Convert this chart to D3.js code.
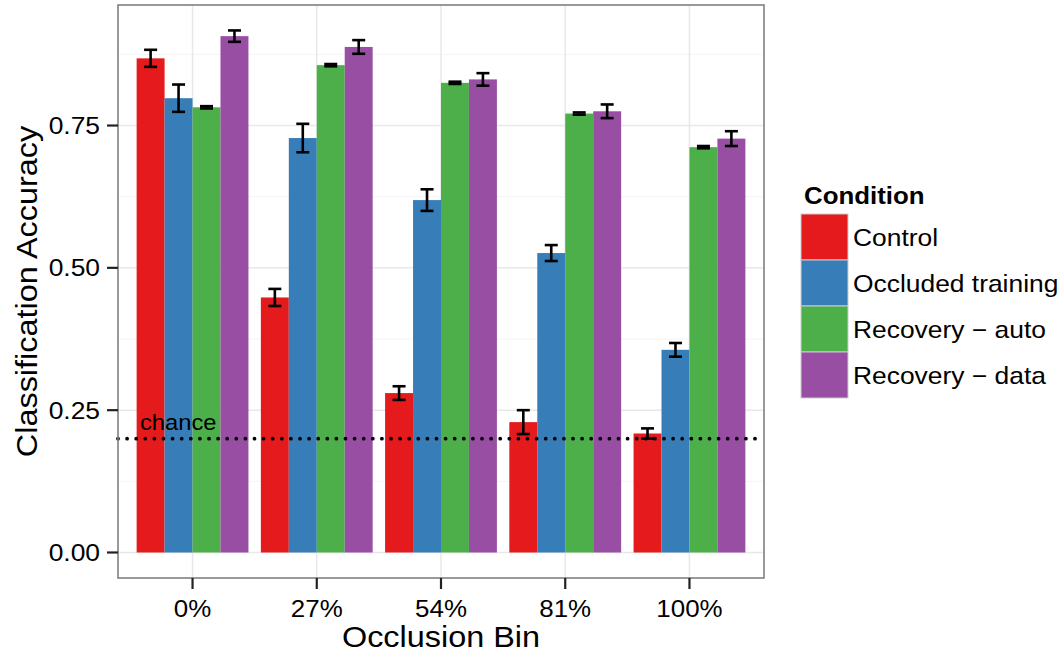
<!DOCTYPE html>
<html>
<head>
<meta charset="utf-8">
<script src="https://cdn.jsdelivr.net/npm/d3@7"></script>
<style>
  html, body { margin: 0; padding: 0; background: #ffffff; }
  svg { display: block; }
  text { font-family: "Liberation Sans", Arial, Helvetica, sans-serif; }
</style>
</head>
<body>
<svg id="chart" width="1064" height="655"></svg>
<script>
// ---- data ----
const categories = ["0%", "27%", "54%", "81%", "100%"];
const conditions = ["Control", "Occluded training", "Recovery \u2212 auto", "Recovery \u2212 data"];
const colors = ["#E41A1C", "#377EB8", "#4DAF4A", "#984EA3"];
const controlVals   = [0.868, 0.448, 0.280, 0.229, 0.209];
const controlErr    = [0.015, 0.015, 0.012, 0.021, 0.009];
const occludedVals  = [0.798, 0.728, 0.619, 0.526, 0.356];
const occludedErr   = [0.024, 0.025, 0.019, 0.014, 0.012];
const autoVals      = [0.782, 0.856, 0.825, 0.771, 0.712];
const autoErr       = [0.002, 0.002, 0.002, 0.002, 0.002];
const dataVals      = [0.907, 0.888, 0.831, 0.775, 0.727];
const dataErr       = [0.010, 0.012, 0.011, 0.012, 0.013];
const yTicks = [0, 0.25, 0.5, 0.75];
const yTickLabels = ["0.00", "0.25", "0.50", "0.75"];
const chanceLevel = 0.2;

const seriesVals = [controlVals, occludedVals, autoVals, dataVals];
const seriesErr = [controlErr, occludedErr, autoErr, dataErr];
const rows = [];
categories.forEach((c, i) => {
  conditions.forEach((cond, j) => {
    rows.push({ cat: c, cond: cond, color: colors[j], v: seriesVals[j][i], e: seriesErr[j][i] });
  });
});

// ---- layout ----
const svg = d3.select("#chart");
const P = { left: 118, right: 764, top: 5, bottom: 578 };
const SX = 1.08; // glyph width factor

const x = d3.scalePoint().domain(categories).range([P.left, P.right]).padding(0.6);
const step = x.step();
const xInner = d3.scaleBand().domain(conditions).range([-0.45 * step, 0.45 * step]).padding(0);
const y = d3.scaleLinear().domain([-0.0448, 0.9617]).range([P.bottom, P.top]);
const minorTicks = [0.125, 0.375, 0.625, 0.875];

function stretchedText(g, tx, ty, rot, txt, size, anchor, weight, sx) {
  return g.append("text")
    .attr("transform", `translate(${tx},${ty}) rotate(${rot}) scale(${sx || SX},1)`)
    .attr("text-anchor", anchor)
    .attr("font-size", size)
    .attr("font-weight", weight || "normal")
    .attr("fill", "#000")
    .text(txt);
}

// panel background
svg.append("rect").attr("x", P.left).attr("y", P.top)
  .attr("width", P.right - P.left).attr("height", P.bottom - P.top)
  .attr("fill", "#fff");

// grid
const grid = svg.append("g");
grid.selectAll("line.minor").data(minorTicks).join("line")
  .attr("x1", P.left).attr("x2", P.right)
  .attr("y1", d => y(d)).attr("y2", d => y(d))
  .attr("stroke", "#f4f4f4").attr("stroke-width", 1);
grid.selectAll("line.majy").data(yTicks).join("line")
  .attr("x1", P.left).attr("x2", P.right)
  .attr("y1", d => y(d)).attr("y2", d => y(d))
  .attr("stroke", "#e8e8e8").attr("stroke-width", 1.5);
grid.selectAll("line.majx").data(categories).join("line")
  .attr("x1", d => x(d)).attr("x2", d => x(d))
  .attr("y1", P.top).attr("y2", P.bottom)
  .attr("stroke", "#e8e8e8").attr("stroke-width", 1.5);

// bars
const barsG = svg.append("g");
barsG.selectAll("rect").data(rows).join("rect")
  .attr("x", d => x(d.cat) + xInner(d.cond))
  .attr("width", xInner.bandwidth())
  .attr("y", d => y(d.v))
  .attr("height", d => y(0) - y(d.v))
  .attr("fill", d => d.color);

// error bars
const errG = svg.append("g").attr("stroke", "#000").attr("stroke-width", 2.6).attr("fill", "none");
rows.forEach(d => {
  const cx = x(d.cat) + xInner(d.cond) + xInner.bandwidth() / 2;
  const hw = 6.5;
  const y1 = y(d.v + d.e), y2 = y(d.v - d.e);
  errG.append("line").attr("x1", cx).attr("x2", cx).attr("y1", y1).attr("y2", y2);
  errG.append("line").attr("x1", cx - hw).attr("x2", cx + hw).attr("y1", y1).attr("y2", y1);
  errG.append("line").attr("x1", cx - hw).attr("x2", cx + hw).attr("y1", y2).attr("y2", y2);
});

// chance line
svg.append("line")
  .attr("x1", P.left).attr("x2", P.right)
  .attr("y1", y(chanceLevel)).attr("y2", y(chanceLevel))
  .attr("stroke", "#000").attr("stroke-width", 3.8)
  .attr("stroke-linecap", "round")
  .attr("stroke-dasharray", "0,9.1");
stretchedText(svg, 140, y(chanceLevel) - 9, 0, "chance", 22, "start");

// panel border
svg.append("rect").attr("x", P.left).attr("y", P.top)
  .attr("width", P.right - P.left).attr("height", P.bottom - P.top)
  .attr("fill", "none").attr("stroke", "#808080").attr("stroke-width", 1.6);

// y axis
const yAx = svg.append("g");
yTicks.forEach((t, i) => {
  yAx.append("line").attr("x1", P.left - 11).attr("x2", P.left)
    .attr("y1", y(t)).attr("y2", y(t)).attr("stroke", "#222").attr("stroke-width", 2.2);
  stretchedText(yAx, 100, y(t) + 8.5, 0, yTickLabels[i], 24, "end", "normal", 1.1);
});
// x axis
const xAx = svg.append("g");
categories.forEach(c => {
  xAx.append("line").attr("x1", x(c)).attr("x2", x(c))
    .attr("y1", P.bottom).attr("y2", P.bottom + 11).attr("stroke", "#222").attr("stroke-width", 2.2);
  stretchedText(xAx, x(c), 617, 0, c, 24, "middle");
});

// axis titles
stretchedText(svg, (P.left + P.right) / 2, 647, 0, "Occlusion Bin", 30, "middle");
stretchedText(svg, 37, (P.top + P.bottom) / 2, -90, "Classification Accuracy", 30, "middle");

// legend
const lg = svg.append("g");
stretchedText(lg, 804, 204, 0, "Condition", 23.5, "start", "bold", 1.1);
const keyH = 46, keyW = 47, keyX = 801, keyY = 214;
conditions.forEach((c, i) => {
  lg.append("rect").attr("x", keyX).attr("y", keyY + i * keyH)
    .attr("width", keyW).attr("height", keyH)
    .attr("fill", colors[i]).attr("stroke", "#cccccc").attr("stroke-width", 1);
  stretchedText(lg, 853, keyY + i * keyH + keyH / 2 + 8.5, 0, c, 24, "start", "normal", 1.1);
});
</script>
</body>
</html>
